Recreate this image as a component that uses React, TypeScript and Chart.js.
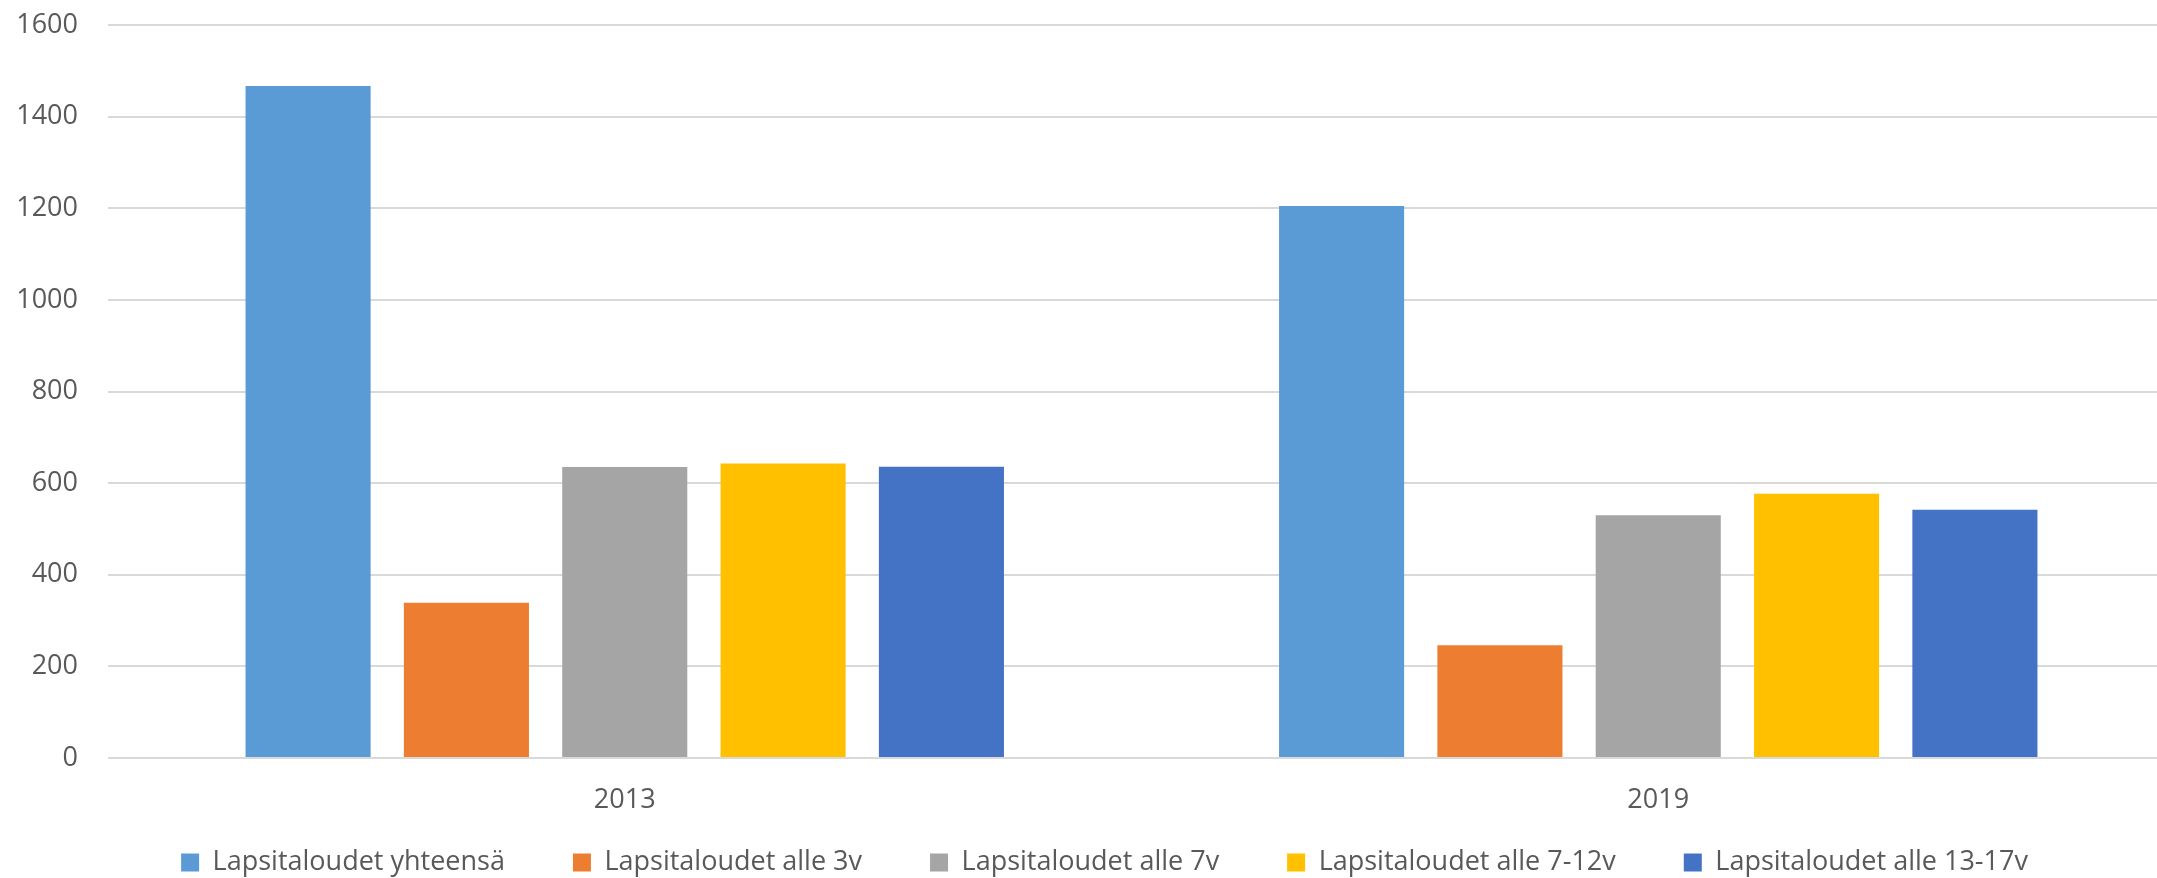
import { useEffect, useRef } from "react";
import { Chart, registerables } from "chart.js";

Chart.register(...registerables);

// Household counts by year
const years = ["2013", "2019"];
const seriesNames = [
  "Lapsitaloudet yhteensä",
  "Lapsitaloudet alle 3v",
  "Lapsitaloudet alle 7v",
  "Lapsitaloudet alle 7-12v",
  "Lapsitaloudet alle 13-17v",
];
const totalHouseholds = [1467, 1205];
const under3 = [339, 246];
const under7 = [635, 530];
const age7to12 = [643, 577];
const age13to17 = [636, 542];
const seriesColors = ["#5B9BD5", "#ED7D31", "#A5A5A5", "#FFC000", "#4472C4"];

const yMin = 0;
const yMax = 1600;
const yStep = 200;

const FONT = "'Open Sans', 'DejaVu Sans', sans-serif";
const FONT_SIZE = 27;
const TEXT_COLOR = "#595959";

// Nudges the bottom legend row into place after the layout pass
const LEGEND_DX = 17;
const LEGEND_DY = -37;
const legendOffset = {
  id: "legendOffset",
  afterLayout(chart: any) {
    const lg = chart.legend;
    if (!lg) return;
    lg.left += LEGEND_DX;
    lg.right += LEGEND_DX;
    lg.top += LEGEND_DY;
    lg.bottom += LEGEND_DY;
  },
};

export default function App() {
  const canvasRef = useRef<HTMLCanvasElement | null>(null);

  useEffect(() => {
    if (!canvasRef.current) return;
    const seriesValues = [totalHouseholds, under3, under7, age7to12, age13to17];
    const chart = new Chart(canvasRef.current, {
      type: "bar",
      data: {
        labels: years,
        datasets: seriesNames.map((name, i) => ({
          label: name,
          data: seriesValues[i],
          backgroundColor: seriesColors[i],
          borderWidth: 0,
          barPercentage: 0.79,
          categoryPercentage: 0.766,
        })),
      },
      options: {
        animation: false,
        responsive: false,
        layout: { padding: { left: 0, top: 25, right: 0, bottom: -45 } },
        plugins: {
          tooltip: { enabled: false },
          legend: {
            position: "bottom",
            labels: {
              boxWidth: 18,
              boxHeight: 18,
              padding: 68,
              color: TEXT_COLOR,
              font: { family: FONT, size: FONT_SIZE },
            },
          },
        },
        scales: {
          x: {
            grid: { display: false, drawTicks: false },
            border: { display: false },
            ticks: {
              color: TEXT_COLOR,
              font: { family: FONT, size: FONT_SIZE },
              padding: 26,
            },
            afterFit: (scale: any) => {
              scale.height = 60;
            },
          },
          y: {
            min: yMin,
            max: yMax,
            ticks: {
              stepSize: yStep,
              color: TEXT_COLOR,
              font: { family: FONT, size: FONT_SIZE },
              padding: 30,
              callback: (value: any) => String(value),
            },
            grid: { color: "#D9D9D9", lineWidth: 2, drawTicks: false },
            border: { display: false },
            afterFit: (scale: any) => {
              scale.width = 108;
              scale.paddingTop = 0;
              scale.paddingBottom = 0;
            },
          },
        },
      },
      plugins: [legendOffset],
    });
    return () => chart.destroy();
  }, []);

  return (
    <div
      style={{
        position: "fixed",
        left: 0,
        top: 0,
        width: 2157,
        height: 878,
        overflow: "hidden",
        background: "#ffffff",
      }}
    >
      <canvas ref={canvasRef} width={2175} height={878} style={{ display: "block" }} />
    </div>
  );
}
